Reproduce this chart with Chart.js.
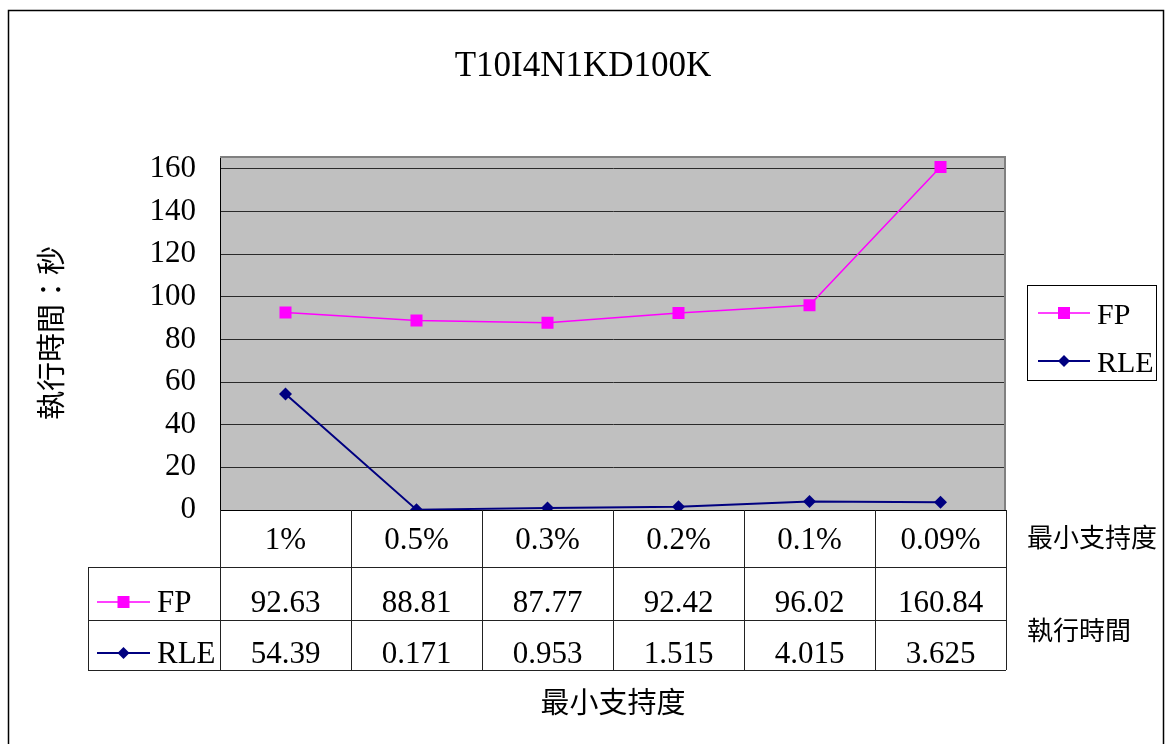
<!DOCTYPE html>
<html>
<head>
<meta charset="utf-8">
<script src="https://cdn.jsdelivr.net/npm/chart.js@4.4.1/dist/chart.umd.min.js"></script>
<style>
  html, body { margin: 0; padding: 0; background: #fff; }
  canvas { display: block; }
</style>
</head>
<body>
<canvas id="chart" width="1166" height="744"></canvas>
<script>
// Minimum support levels (categories)
const supportLevels = ['1%', '0.5%', '0.3%', '0.2%', '0.1%', '0.09%'];
// Execution time in seconds for each algorithm
const fpTimes = [92.63, 88.81, 87.77, 92.42, 96.02, 160.84];
const rleTimes = [54.39, 0.171, 0.953, 1.515, 4.015, 3.625];
// Y axis tick values
const yTickValues = [0, 20, 40, 60, 80, 100, 120, 140, 160];
const seriesNames = ['FP', 'RLE'];

const SERIF = '"Liberation Serif", "Noto Sans CJK TC", serif';
const FP_COLOR = '#FF00FF';
const RLE_COLOR = '#000080';

function drawMarker(ctx, style, x, y, color) {
  ctx.fillStyle = color;
  ctx.beginPath();
  if (style === 'rect') {
    ctx.rect(x - 6, y - 6, 12, 12);
  } else {
    ctx.moveTo(x, y - 6); ctx.lineTo(x + 6, y); ctx.lineTo(x, y + 6); ctx.lineTo(x - 6, y);
    ctx.closePath();
  }
  ctx.fill();
}

function drawKey(ctx, x1, x2, y, color, style, lw) {
  ctx.strokeStyle = color;
  ctx.lineWidth = lw;
  ctx.beginPath();
  ctx.moveTo(x1, y); ctx.lineTo(x2, y);
  ctx.stroke();
  drawMarker(ctx, style, (x1 + x2) / 2, y, color);
}

// Grey plot background plus the outer frame
const backgroundPlugin = {
  id: 'plotBackground',
  beforeDraw(chart) {
    const { ctx, chartArea: a } = chart;
    ctx.save();
    ctx.fillStyle = '#fff';
    ctx.fillRect(0, 0, chart.width, chart.height);
    ctx.fillStyle = '#C0C0C0';
    ctx.fillRect(a.left, a.top, a.right - a.left, a.bottom - a.top);
    ctx.strokeStyle = '#000';
    ctx.lineWidth = 1.5;
    ctx.strokeRect(8.5, 10.5, 1155, 800);
    ctx.restore();
  },
  beforeDatasetsDraw(chart) {
    const { ctx, chartArea: a } = chart;
    ctx.save();
    ctx.strokeStyle = '#808080';
    ctx.lineWidth = 2;
    ctx.beginPath();
    ctx.moveTo(a.left, a.top + 1);
    ctx.lineTo(a.right - 1, a.top + 1);
    ctx.lineTo(a.right - 1, a.bottom);
    ctx.stroke();
    ctx.restore();
  }
};

// Data table under the plot, the legend box and the side captions
const tablePlugin = {
  id: 'dataTable',
  afterDraw(chart) {
    const { ctx, chartArea: a } = chart;
    const xs = chart.scales.x;
    const n = supportLevels.length;
    const half = (xs.getPixelForValue(1) - xs.getPixelForValue(0)) / 2;
    const top = Math.round(a.bottom);
    const r1 = top + 57, r2 = r1 + 53, r3 = r2 + 50;
    const labelLeft = 88;
    const right = Math.round(a.right);

    ctx.save();
    ctx.strokeStyle = '#222';
    ctx.lineWidth = 1;
    ctx.beginPath();
    for (let i = 0; i <= n; i++) {
      const xb = Math.round(i < n ? xs.getPixelForValue(i) - half : xs.getPixelForValue(n - 1) + half) + 0.5;
      ctx.moveTo(xb, top); ctx.lineTo(xb, r3);
    }
    [r1, r2, r3].forEach(y => { ctx.moveTo(labelLeft, y + 0.5); ctx.lineTo(right, y + 0.5); });
    ctx.moveTo(labelLeft + 0.5, r1); ctx.lineTo(labelLeft + 0.5, r3);
    ctx.stroke();

    // row headers and values
    const rows = [
      { name: seriesNames[0], data: fpTimes, color: FP_COLOR, style: 'rect', lw: 1.5, base: r2 - 8 },
      { name: seriesNames[1], data: rleTimes, color: RLE_COLOR, style: 'diamond', lw: 2, base: r3 - 7 }
    ];
    ctx.font = '31px ' + SERIF;
    ctx.textBaseline = 'alphabetic';
    rows.forEach(r => {
      const yMid = r.base - 10;
      drawKey(ctx, 97, 150, yMid, r.color, r.style, r.lw);
      ctx.fillStyle = '#000';
      ctx.textAlign = 'left';
      ctx.fillText(r.name, 157, r.base);
      ctx.textAlign = 'center';
      r.data.forEach((v, i) => {
        ctx.fillText(String(v), xs.getPixelForValue(i), r.base);
      });
    });

    // side captions
    ctx.font = '26px ' + SERIF;
    ctx.textAlign = 'left';
    ctx.textBaseline = 'middle';
    ctx.fillStyle = '#000';
    ctx.fillText('最小支持度', 1027, 540);
    ctx.fillText('執行時間', 1027, 633);

    // legend box
    ctx.strokeStyle = '#000';
    ctx.lineWidth = 1;
    ctx.strokeRect(1027.5, 285.5, 129, 95);
    drawKey(ctx, 1038, 1090, 313, FP_COLOR, 'rect', 1.5);
    drawKey(ctx, 1038, 1090, 361, RLE_COLOR, 'diamond', 2);
    ctx.font = '30px ' + SERIF;
    ctx.textBaseline = 'alphabetic';
    ctx.fillStyle = '#000';
    ctx.fillText(seriesNames[0], 1097, 324);
    ctx.fillText(seriesNames[1], 1097, 372);
    ctx.restore();
  }
};

new Chart(document.getElementById('chart'), {
  type: 'line',
  data: {
    labels: supportLevels,
    datasets: [
      {
        label: seriesNames[0],
        data: fpTimes,
        borderColor: FP_COLOR,
        backgroundColor: FP_COLOR,
        borderWidth: 1.5,
        pointStyle: 'rect',
        pointRadius: 8.5,
        pointBorderWidth: 0,
        tension: 0
      },
      {
        label: seriesNames[1],
        data: rleTimes,
        borderColor: RLE_COLOR,
        backgroundColor: RLE_COLOR,
        borderWidth: 2,
        pointStyle: 'rectRot',
        pointRadius: 6.5,
        pointBorderWidth: 0,
        tension: 0
      }
    ]
  },
  options: {
    responsive: false,
    animation: false,
    devicePixelRatio: 1,
    layout: { padding: { left: 0, right: 0, top: 0, bottom: 0 } },
    plugins: {
      legend: { display: false },
      tooltip: { enabled: false },
      title: {
        display: true,
        text: 'T10I4N1KD100K',
        color: '#000',
        font: { family: SERIF, size: 35, weight: 'normal' },
        padding: { top: 46, bottom: 68 }
      }
    },
    scales: {
      x: {
        type: 'category',
        offset: true,
        grid: { display: false, drawTicks: false },
        border: { display: true, color: '#000', width: 1 },
        ticks: {
          color: '#000',
          font: { family: SERIF, size: 31 },
          padding: 12,
          maxRotation: 0,
          autoSkip: false
        },
        title: {
          display: true,
          text: '最小支持度',
          color: '#000',
          font: { family: SERIF, size: 29 },
          padding: { top: 0, bottom: 21 }
        },
        afterFit(scale) { scale.height = 234; }
      },
      y: {
        min: 0,
        max: 166,
        grid: { color: '#2a2a2a', lineWidth: 1, drawTicks: false },
        border: { display: true, color: '#000', width: 1 },
        ticks: {
          stepSize: 20,
          color: '#000',
          font: { family: SERIF, size: 31 },
          padding: 24
        },
        afterBuildTicks(scale) {
          scale.ticks = yTickValues.map(v => ({ value: v }));
        },
        title: {
          display: true,
          text: '執行時間：秒',
          color: '#000',
          font: { family: SERIF, size: 29 },
          padding: { top: 37, bottom: 0 }
        },
        afterFit(scale) { scale.width = 220; }
      },
      // empty right-hand margin that holds the legend and captions
      side: {
        type: 'linear',
        position: 'right',
        display: true,
        grid: { display: false, drawTicks: false },
        border: { display: false },
        ticks: { display: false },
        afterFit(scale) { scale.width = 160; }
      }
    }
  },
  plugins: [backgroundPlugin, tablePlugin]
});
</script>
</body>
</html>
